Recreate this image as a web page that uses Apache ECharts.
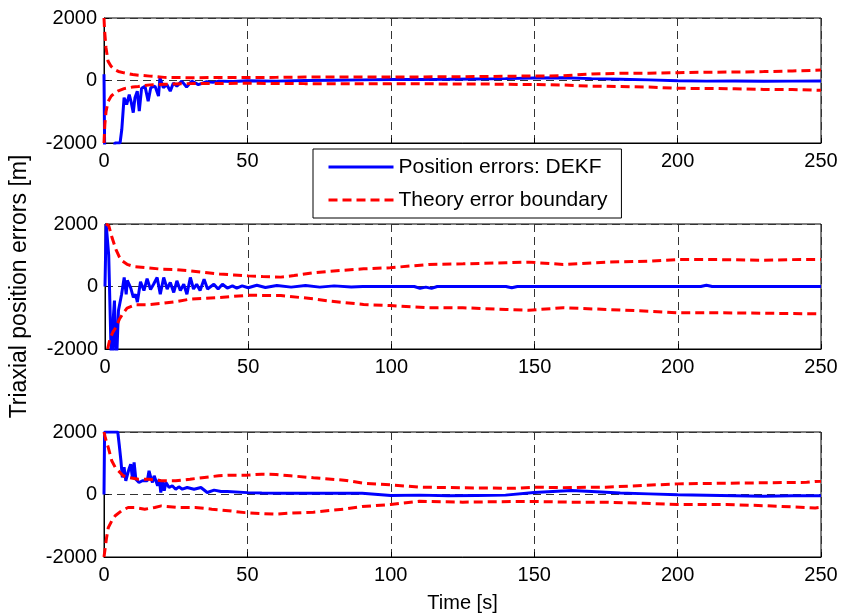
<!DOCTYPE html>
<html>
<head>
<meta charset="utf-8">
<script src="https://cdn.jsdelivr.net/npm/echarts@6/dist/echarts.min.js"></script>
<style>html,body{margin:0;padding:0;background:#fff}#c{width:845px;height:615px}</style>
</head>
<body>
<div id="c"></div>
<script>
// ---- data (time [s], value [m]) ----
const xTicks = [0, 50, 100, 150, 200, 250];
const yTicks = [-2000, 0, 2000];
const legendNames = ['Position errors: DEKF', 'Theory error boundary'];

const p1Error = [[0,200],[0.3,-3000],[3.3,-2400],[3.8,-2000],[5.6,-2000],[6.2,-1570],[7,-550],[7.9,-770],[8.8,-450],[9.5,-700],[10.2,-1030],[10.8,-550],[11.6,-340],[12.3,-980],[13.1,-250],[14.3,-190],[15.4,-660],[16.3,-230],[17.8,-180],[19,-500],[19.5,85],[20.7,-230],[21.9,-130],[23.1,-340],[24.2,-80],[25.4,-180],[27.1,-20],[28.8,-210],[30.6,-20],[32.9,-130],[35.8,-40],[38,-60],[40,-20],[45,-30],[50,-10],[60,-20],[70,0],[80,10],[90,20],[100,30],[110,35],[120,40],[130,50],[140,60],[150,80],[160,90],[170,60],[180,40],[190,20],[200,-10],[210,-20],[220,-15],[230,-25],[240,-20],[250,-15]];
const p1Upper = [[0,2000],[0.2,1600],[0.7,1050],[1.4,620],[2.5,450],[3.7,350],[5,290],[7,245],[10,190],[12,170],[16,140],[21,100],[30,90],[40,95],[50,95],[60,100],[70,110],[80,110],[90,115],[100,110],[110,115],[120,120],[130,125],[140,135],[150,145],[160,150],[170,210],[180,230],[190,235],[200,250],[210,265],[220,270],[230,285],[240,305],[250,335]];
const p1Lower = [[0,-2000],[0.3,-1400],[0.7,-1000],[1.4,-680],[2.5,-500],[3.7,-400],[5,-330],[7,-260],[10,-210],[12,-190],[16,-140],[21,-120],[30,-100],[40,-95],[50,-90],[60,-95],[70,-100],[80,-100],[90,-105],[100,-100],[110,-105],[120,-110],[130,-110],[140,-120],[150,-130],[160,-145],[170,-180],[180,-195],[190,-210],[200,-250],[210,-255],[220,-265],[230,-285],[240,-290],[250,-315]];

const p2Error = [[0,0],[0.4,2000],[1.3,1000],[2.1,-2000],[2.5,-2600],[2.9,-1000],[3.3,-450],[3.8,-2200],[4.2,-2000],[4.7,-770],[5.8,-250],[6.7,290],[7.4,-250],[7.8,200],[9,-50],[9.9,-350],[10.7,-250],[11.3,-500],[12.4,150],[13.6,-130],[14.7,250],[15.9,-100],[17,80],[18.2,290],[19.3,-250],[20.5,290],[21.7,-80],[22.8,130],[24,-190],[25.1,180],[26.3,-130],[27.5,70],[28.6,-250],[29.8,290],[30.9,-80],[32,70],[33.2,-130],[34.6,230],[35.8,-80],[38,70],[39.5,-80],[41,70],[42.7,-50],[44.5,20],[46,-50],[47.9,20],[50,-40],[53,40],[56,-30],[60,30],[65,-20],[70,30],[75,-20],[80,20],[86,-15],[90,0],[108,0],[110,-60],[112,-20],[114,-60],[116,0],[140,0],[142,-40],[144,0],[208,0],[210,40],[212,0],[250,0]];
const p2Upper = [[0.3,2000],[1.3,1950],[2.5,1550],[3.8,1190],[5,950],[6,820],[7.7,710],[10,640],[15,600],[20,550],[25,540],[30,500],[35,450],[40,400],[45,370],[50,340],[55,320],[61.4,300],[66,350],[72.9,440],[78.8,490],[90.3,565],[99.6,600],[113,705],[125,725],[140,760],[148,780],[160,705],[175,780],[190,810],[200,865],[215,860],[230,840],[240,860],[250,865]];
const p2Lower = [[0.9,-2000],[1.8,-1650],[2.8,-1450],[3.8,-1310],[5,-1050],[6.1,-890],[7.7,-690],[10.8,-580],[15,-580],[20,-540],[25,-480],[30,-400],[40,-350],[50,-280],[61.4,-290],[72.9,-395],[78.8,-470],[90.3,-575],[99.6,-610],[113,-680],[125,-680],[140,-735],[148,-760],[160,-680],[175,-735],[190,-790],[200,-840],[215,-840],[230,-855],[250,-875]];

const p3Error = [[0,0],[0.2,2000],[4.8,2000],[5.3,1600],[5.9,1080],[6.4,545],[7,870],[7.6,440],[8.7,810],[9.3,970],[9.9,545],[10.5,1030],[11.1,490],[12.2,385],[13.4,440],[15.1,440],[15.7,760],[16.3,545],[16.9,385],[17.5,600],[18.7,280],[19.3,490],[19.8,65],[20.4,440],[21,120],[21.6,385],[22.7,225],[23.8,280],[25,170],[26.1,245],[27.3,170],[29,225],[31.4,170],[33.8,225],[36,65],[38.4,140],[40.8,95],[43,95],[50,60],[55,50],[62,40],[70,40],[80,40],[90,40],[100,-30],[110,-20],[120,-40],[130,-30],[140,-20],[150,65],[163,130],[170,95],[180,45],[190,20],[200,-10],[215,-30],[230,-55],[240,-40],[250,-40]];
const p3Upper = [[0,2000],[0.5,1800],[1.5,1500],[2.7,1080],[3.9,870],[5,760],[6.7,600],[8.4,545],[12,490],[15.5,490],[20,440],[25,440],[30,490],[35,545],[40,600],[45,620],[50,620],[55,650],[60,640],[65,600],[73,535],[84.5,450],[90,365],[100,310],[110,235],[125,215],[143,200],[150,235],[160,220],[175,235],[188,290],[200,340],[217,360],[231,375],[245,390],[248,415],[250,420]];
const p3Lower = [[0,-2000],[0.9,-1380],[1.5,-1060],[2.7,-845],[3.9,-680],[6.1,-520],[8.4,-415],[10.7,-415],[14.2,-470],[17.7,-415],[20,-365],[26,-415],[31.8,-415],[37.6,-470],[43.4,-520],[49.2,-580],[55,-610],[59.7,-630],[64.4,-600],[73,-565],[84.5,-460],[90,-385],[100,-320],[110,-215],[125,-245],[143,-225],[150,-225],[163,-245],[175,-245],[188,-280],[200,-320],[217,-320],[231,-360],[248,-430],[250,-410]];

const panels = [
  {err: p1Error, up: p1Upper, lo: p1Lower},
  {err: p2Error, up: p2Upper, lo: p2Lower},
  {err: p3Error, up: p3Upper, lo: p3Lower}
];

// ---- chart ----
const FONT = '"Liberation Sans", Arial, Helvetica, sans-serif';
const gridTops = [18, 224, 432];
const grids = gridTops.map(t => ({left: 104, top: t, width: 717, height: 125, show: true, borderColor: '#000', borderWidth: 1, backgroundColor: 'transparent'}));
const gridLine = {show: true, lineStyle: {color: '#333', width: 1, type: [8, 5]}};

const xAxes = gridTops.map((t, i) => ({
  type: 'value', gridIndex: i, min: xTicks[0], max: xTicks[xTicks.length - 1], interval: xTicks[1] - xTicks[0],
  axisLine: {show: true, onZero: false, lineStyle: {color: '#000'}},
  axisTick: {show: true, inside: true, length: 5, lineStyle: {color: '#000'}},
  axisLabel: {color: '#000', fontSize: 20, fontFamily: FONT, margin: 8, formatter: v => String(v)},
  splitLine: gridLine,
  name: i === 2 ? 'Time [s]' : '', nameLocation: 'middle', nameGap: 36,
  nameTextStyle: {color: '#000', fontSize: 20, fontFamily: FONT}
}));
const yAxes = gridTops.map((t, i) => ({
  type: 'value', gridIndex: i, min: yTicks[0], max: yTicks[yTicks.length - 1], interval: yTicks[1] - yTicks[0],
  axisLine: {show: true, onZero: false, lineStyle: {color: '#000'}},
  axisTick: {show: true, inside: true, length: 5, lineStyle: {color: '#000'}},
  axisLabel: {color: '#000', fontSize: 20, fontFamily: FONT, margin: 7, formatter: v => String(v)},
  splitLine: gridLine,
  name: i === 1 ? 'Triaxial position errors [m]' : '', nameLocation: 'middle', nameGap: 74,
  nameTextStyle: {color: '#000', fontSize: 23, fontFamily: FONT}
}));

const series = [];
panels.forEach((p, i) => {
  series.push({name: legendNames[0], type: 'line', xAxisIndex: i, yAxisIndex: i, data: p.err, symbol: 'none', clip: true,
    lineStyle: {color: '#0000ff', width: 3}, itemStyle: {color: '#0000ff', opacity: 0}});
  series.push({name: legendNames[1], type: 'line', xAxisIndex: i, yAxisIndex: i, data: p.up, symbol: 'none', clip: true,
    lineStyle: {color: '#ff0000', width: 3, type: [9, 5]}, itemStyle: {color: '#ff0000', opacity: 0}});
  series.push({name: legendNames[1], type: 'line', xAxisIndex: i, yAxisIndex: i, data: p.lo, symbol: 'none', clip: true,
    lineStyle: {color: '#ff0000', width: 3, type: [9, 5]}, itemStyle: {color: '#ff0000', opacity: 0}});
});

const chart = echarts.init(document.getElementById('c'), null, {renderer: 'canvas'});
chart.setOption({
  animation: false,
  backgroundColor: '#fff',
  grid: grids,
  xAxis: xAxes,
  yAxis: yAxes,
  legend: {
    data: legendNames, orient: 'vertical', left: 313, top: 149,
    backgroundColor: '#fff', borderColor: '#000', borderWidth: 1,
    padding: [7, 14, 7, 14], itemWidth: 65, itemHeight: 14, itemGap: 11,
    selectedMode: false,
    itemStyle: {opacity: 0},
    lineStyle: {width: 3},
    textStyle: {color: '#000', fontSize: 21, fontFamily: FONT, lineHeight: 22}
  },
  series: series
});
</script>
</body>
</html>
